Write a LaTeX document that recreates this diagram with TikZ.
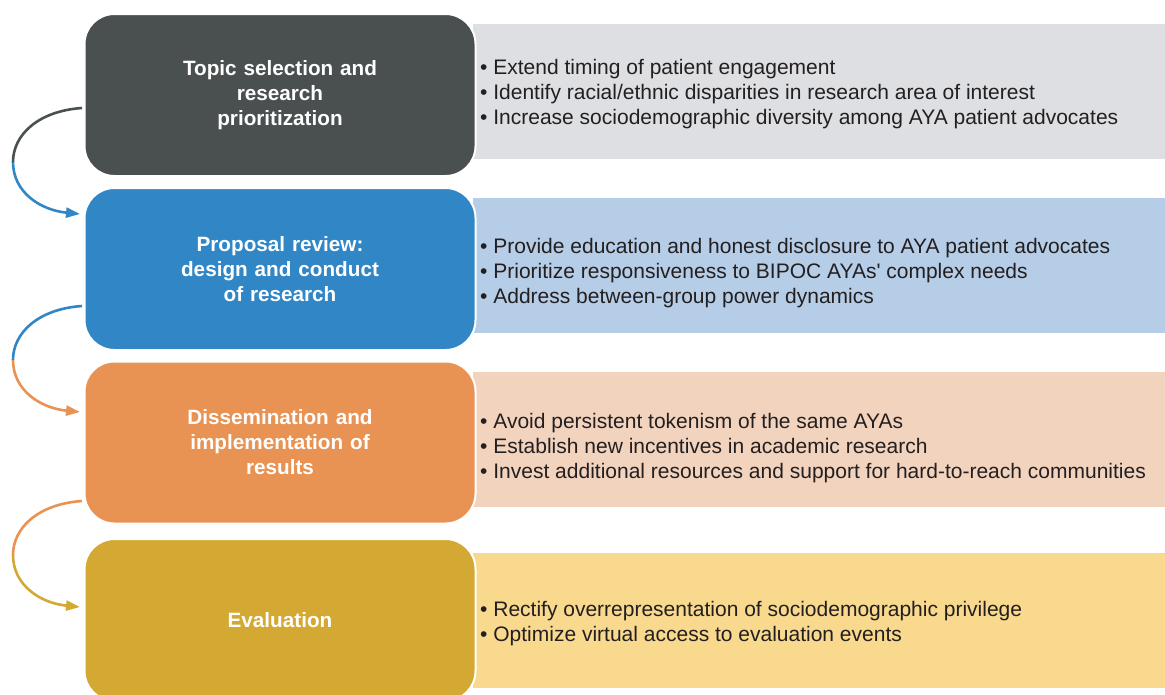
\documentclass[tikz,border=0pt]{standalone}
\usepackage{fontspec}
\setmainfont{Liberation Sans}
\usetikzlibrary{arrows.meta}
\definecolor{c1}{HTML}{4A5050}
\definecolor{r1}{HTML}{DDDFE2}
\definecolor{c2}{HTML}{3186C6}
\definecolor{r2}{HTML}{B5CDE6}
\definecolor{c3}{HTML}{E89353}
\definecolor{r3}{HTML}{F2D3BE}
\definecolor{c4}{HTML}{D4A933}
\definecolor{r4}{HTML}{F8D98D}
\definecolor{txt}{HTML}{231F20}
\tikzset{
  stagebox/.style={rounded corners=30pt, draw=white, line width=2pt, minimum width=391pt, minimum height=162pt, text=white, font=\fontsize{20.7}{25}\selectfont\bfseries, align=center, text width=260pt, inner sep=0pt},
  infobox/.style={minimum width=692pt, minimum height=135pt, inner sep=0pt},
  infotext/.style={anchor=west, text=txt, font=\fontsize{21}{25}\selectfont, align=left, inner sep=0pt},
  flow/.style={line width=2.6pt},
  tip/.style={-{Triangle[length=14pt,width=10pt]}}
}
\begin{document}
\begin{tikzpicture}[x=1pt,y=-1pt]
\useasboundingbox (0,0) rectangle (1165,694);
% right boxes
\node[infobox, fill=r1] (i1) at (819,91.5) {};
\node[infobox, fill=r2] (i2) at (819,265.5) {};
\node[infobox, fill=r3] (i3) at (819,439.5) {};
\node[infobox, fill=r4] (i4) at (819,620) {};
% texts
\node[infotext] (t1) at (480,94) {• Extend timing of patient engagement\\• Identify racial/ethnic disparities in research area of interest\\• Increase sociodemographic diversity among AYA patient advocates};
\node[infotext] (t2) at (480,273) {• Provide education and honest disclosure to AYA patient advocates\\• Prioritize responsiveness to BIPOC AYAs\textquotesingle{} complex needs\\• Address between-group power dynamics};
\node[infotext] (t3) at (480,448) {• Avoid persistent tokenism of the same AYAs\\• Establish new incentives in academic research\\• Invest additional resources and support for hard-to-reach communities};
\node[infotext] (t4) at (480,623.5) {• Rectify overrepresentation of sociodemographic privilege\\• Optimize virtual access to evaluation events};
% stage boxes
\node[stagebox, fill=c1] (s1) at (280,95) {Topic selection and\\research\\prioritization};
\node[stagebox, fill=c2] (s2) at (280,269) {Proposal review:\\design and conduct\\of research};
\node[stagebox, fill=c3] (s3) at (280,442.5) {Dissemination and\\implementation of\\results};
\node[stagebox, fill=c4] (s4) at (280,620) {Evaluation};
% connectors
\coordinate (a1) at (82,108); \coordinate (m1) at (13,162); \coordinate (e1) at (80,214);
\coordinate (a2) at (82,306); \coordinate (m2) at (13,360); \coordinate (e2) at (80,412);
\coordinate (a3) at (82,501); \coordinate (m3) at (13,555); \coordinate (e3) at (80,607);
\draw[flow, c1] (a1) .. controls (38,111) and (13,135) .. (m1);
\draw[flow, c2, tip] (m1) .. controls (13,192) and (40,210) .. (e1);
\draw[flow, c2] (a2) .. controls (38,309) and (13,333) .. (m2);
\draw[flow, c3, tip] (m2) .. controls (13,390) and (40,408) .. (e2);
\draw[flow, c3] (a3) .. controls (38,504) and (13,528) .. (m3);
\draw[flow, c4, tip] (m3) .. controls (13,585) and (40,603) .. (e3);
\end{tikzpicture}
\end{document}
